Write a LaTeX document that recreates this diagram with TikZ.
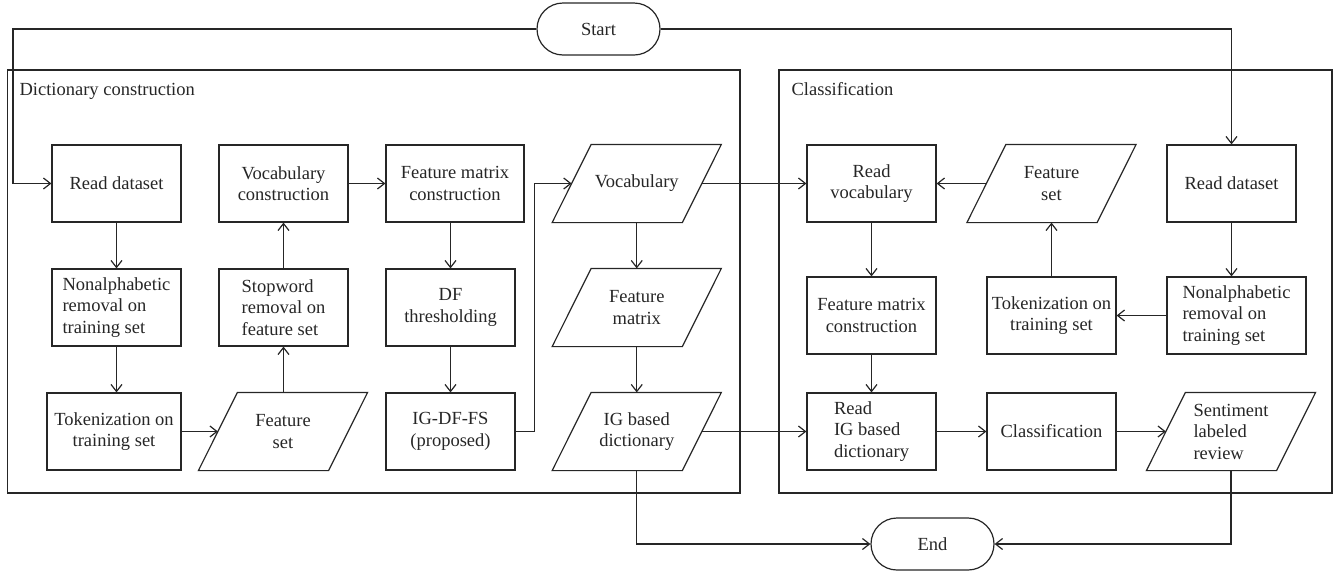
\documentclass[tikz,border=0pt]{standalone}
\usepackage{fontspec}
\setmainfont{Liberation Serif}
\usetikzlibrary{arrows.meta,shapes.misc}
\tikzset{
  box/.style={draw, rectangle, minimum width=129pt, minimum height=77pt, inner sep=2pt, align=center, font=\fontsize{18.5}{21.5}\selectfont},
  lbox/.style={box, align=left},
  para/.style={rectangle, minimum width=129pt, minimum height=77pt, inner sep=2pt, align=center, font=\fontsize{18.5}{21.5}\selectfont},
  term/.style={draw, rounded rectangle, minimum width=127pt, minimum height=52pt, inner sep=2pt, font=\fontsize{18.5}{21.5}\selectfont},
  frame/.style={draw},
  arr/.style={-{Straight Barb[length=7pt,width=11pt,line width=1.2pt]}},
  ttl/.style={anchor=base west, inner sep=0pt, font=\fontsize{18.5}{21.5}\selectfont}
}
\newcommand{\drawpara}[1]{\draw ([xshift=19.5pt]#1.north west) -- ([xshift=19.5pt]#1.north east) -- ([xshift=-19.5pt]#1.south east) -- ([xshift=-19.5pt]#1.south west) -- cycle;}
\begin{document}
\begin{tikzpicture}[x=1pt,y=-1pt,line width=1.2pt,color=black!85]
\useasboundingbox (0,0) rectangle (1336,571);
% frames
\draw[frame] (7.7,70) rectangle (740,493);
\draw[frame] (779,70) rectangle (1332,493);
\node[ttl] (t1) at (19,95) {Dictionary construction};
\node[ttl] (t2) at (791,95) {Classification};
% terminals
\node[term] (st) at (598.5,29) {Start};
\node[term] (en) at (932.5,544) {End};
% dictionary construction
\node[box] (rd1) at (116.5,183.5) {Read dataset};
\node[lbox] (na1) at (116.5,307.5) {Nonalphabetic\\removal on\\training set};
\node[box, minimum width=134pt] (tk1) at (114,431.5) {Tokenization on\\training set};
\node[box] (vc1) at (283.5,183.5) {Vocabulary\\construction};
\node[lbox] (sw1) at (283.5,307.5) {Stopword\\removal on\\feature set};
\node[para] (fs1) at (283,431.5) {Feature\\set};
\drawpara{fs1}
\node[box, minimum width=138pt] (fm1) at (455,183.5) {Feature matrix\\construction};
\node[box] (df) at (450.5,307.5) {DF\\thresholding};
\node[box] (ig1) at (450.5,431.5) {IG-DF-FS\\(proposed)};
\node[para] (vo) at (636.75,183.5) {Vocabulary};
\drawpara{vo}
\node[para] (fm) at (636.75,307.5) {Feature\\matrix};
\drawpara{fm}
\node[para] (igd) at (636.75,431.5) {IG based\\dictionary};
\drawpara{igd}
% classification
\node[box] (rv) at (871.5,183.5) {Read\\vocabulary};
\node[box] (fmc2) at (871.5,315.5) {Feature matrix\\construction};
\node[lbox] (rig) at (871.5,431.5) {Read\\IG based\\dictionary};
\node[para] (fs2) at (1051.5,183.5) {Feature\\set};
\drawpara{fs2}
\node[box] (tk2) at (1051.5,315.5) {Tokenization on\\training set};
\node[box] (cl) at (1051.5,431.5) {Classification};
\node[box] (rd2) at (1231.5,183.5) {Read dataset};
\node[lbox, minimum width=139pt] (na2) at (1236.5,315.5) {Nonalphabetic\\removal on\\training set};
\node[para, align=left] (sl) at (1231,431.5) {Sentiment\\labeled\\review};
\drawpara{sl}
% connectors
\coordinate (c1) at (13,29);
\coordinate (c2) at (1231.5,29);
\draw[arr] (st.west) -- (c1) |- (rd1.west);
\draw[arr] (st.east) -- (c2) -- (rd2.north);
\draw[arr] (rd1) -- (na1);
\draw[arr] (na1.south) -- (na1.south |- tk1.north);
\draw[arr] (tk1) -- (fs1);
\draw[arr] (fs1.north -| sw1) -- (sw1.south);
\draw[arr] (sw1) -- (vc1);
\draw[arr] (vc1) -- (fm1.west |- vc1);
\draw[arr] (df |- fm1.south) -- (df.north);
\draw[arr] (df) -- (ig1);
\draw[arr] (ig1.east) -- ++(19,0) |- (vo.west);
\draw[arr] (vo) -- (fm);
\draw[arr] (fm) -- (igd);
\draw[arr] (vo) -- (rv);
\draw[arr] (igd) -- (rig);
\draw[arr] (igd.south) |- (en.west);
\draw[arr] (rv) -- (fmc2);
\draw[arr] (fmc2) -- (rig);
\draw[arr] (rig) -- (cl);
\draw[arr] (cl) -- (sl);
\draw[arr] (sl.south) |- (en.east);
\draw[arr] (fs2) -- (rv);
\draw[arr] (tk2) -- (fs2);
\draw[arr] (rd2.south) -- (rd2.south |- na2.north);
\draw[arr] (na2.west |- tk2) -- (tk2);
\end{tikzpicture}
\end{document}
